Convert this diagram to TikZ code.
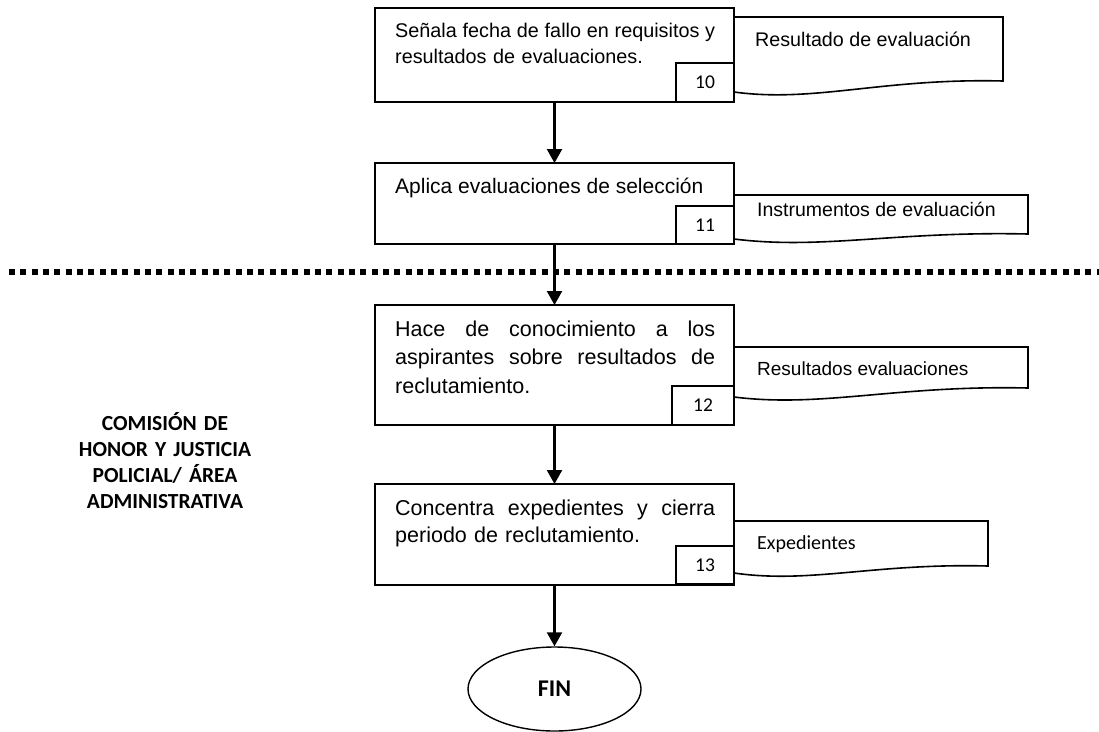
\documentclass[tikz,border=0pt]{standalone}
\usepackage{fontspec}
\setmainfont{Liberation Sans}
\newfontfamily\calfont{Carlito}
\usetikzlibrary{arrows.meta,shapes.geometric}
\hyphenpenalty=10000
\exhyphenpenalty=10000
\newcommand\docpath[4]{%
  \draw[docline] (734,#2) -- (#1,#2) -- (#1,#3)
    .. controls ({#1-0.45*(#1-734)},{#3-3}) and ({734+0.30*(#1-734)},{#4+11}) .. (734,#4) -- cycle;}
\newcommand\jline[1]{\leavevmode\hbox to 320pt{#1}}
\begin{document}
\begin{tikzpicture}[x=1pt,y=-1pt,
  box/.style={draw,line width=1.7pt,rectangle,inner sep=0pt,outer sep=0pt},
  numbox/.style={draw,line width=1.7pt,rectangle,inner sep=0pt,outer sep=0pt,fill=white,
    minimum width=58pt,minimum height=38pt,font=\calfont\fontsize{19.5}{22}\selectfont},
  docline/.style={line width=1.6pt,fill=white},
  txt/.style={inner sep=0pt,anchor=base west,align=left,text width=320pt,font=\fontsize{21.5}{28.5}\selectfont},
  doclabel/.style={inner sep=0pt,anchor=base west,font=\fontsize{19.5}{23}\selectfont},
  arr/.style={line width=2.2pt,-{Triangle[width=15pt,length=14pt]}},
  lab/.style={inner sep=0pt,anchor=base,text width=220pt,align=center,
    font=\calfont\bfseries\fontsize{21.5}{26}\selectfont}]
\useasboundingbox (0,0) rectangle (1099,731);

% separator
\draw[line width=6pt,dash pattern=on 6pt off 5.33pt] (9,272) -- (1099,272);

% documents
\docpath{1003}{17}{81}{92}
\docpath{1028}{195}{234}{239}
\docpath{1028}{347}{388}{397}
\docpath{988}{521}{566}{573}

% process boxes
\node[box,minimum width=359pt,minimum height=94pt] (b10) at (554.5,55) {};
\node[box,minimum width=359pt,minimum height=81pt] (b11) at (554.5,203.5) {};
\node[box,minimum width=359pt,minimum height=120pt] (b12) at (554.5,365) {};
\node[box,minimum width=359pt,minimum height=101pt] (b13) at (554.5,534.5) {};

% number boxes
\node[numbox,minimum height=39pt] (n10) at (705,82.5) {10};
\node[numbox] (n11) at (705,225) {11};
\node[numbox,minimum width=62pt,minimum height=39pt] (n12) at (703,405.5) {12};
\node[numbox] (n13) at (705,565) {13};

% box texts
\node[txt,font=\fontsize{19.8}{26}\selectfont] (t10) at (395,37)
  {\jline{Señala\hfill fecha\hfill de\hfill fallo\hfill en\hfill requisitos\hfill y}\\resultados de evaluaciones.};
\node[txt,text width=,font=\fontsize{21}{27}\selectfont] (t11) at (395,193) {Aplica evaluaciones de selección};
\node[txt] (t12) at (395,336)
  {\jline{Hace\hfill de\hfill conocimiento\hfill a\hfill los}\\\jline{aspirantes\hfill sobre\hfill resultados\hfill de}\\reclutamiento.};
\node[txt,font=\fontsize{21.5}{27}\selectfont] (t13) at (395,515)
  {\jline{Concentra\hfill expedientes\hfill y\hfill cierra}\\periodo de reclutamiento.};

% document labels
\node[doclabel,font=\fontsize{19.7}{23}\selectfont] (d10) at (755,46) {Resultado de evaluación};
\node[doclabel] (d11) at (757,216) {Instrumentos de evaluación};
\node[doclabel,font=\fontsize{19}{23}\selectfont] (d12) at (757,375) {Resultados evaluaciones};
\node[doclabel,font=\calfont\fontsize{20}{24}\selectfont] (d13) at (757,549) {Expedientes};

% end
\node[draw,ellipse,line width=1.4pt,minimum width=173pt,minimum height=84pt,inner sep=0pt,
  font=\calfont\bfseries\fontsize{24}{28}\selectfont] (fin) at (554.5,689) {FIN};

% lane label
\node[lab] (lane) at (165,430) {COMISIÓN DE\\HONOR Y JUSTICIA\\POLICIAL/ ÁREA\\ADMINISTRATIVA};

% connectors
\draw[arr] (b10.south) -- (b11.north);
\draw[arr] (b11.south) -- (b12.north);
\draw[arr] (b12.south) -- (b13.north);
\draw[arr] (b13.south) -- (fin.north);
\end{tikzpicture}
\end{document}
